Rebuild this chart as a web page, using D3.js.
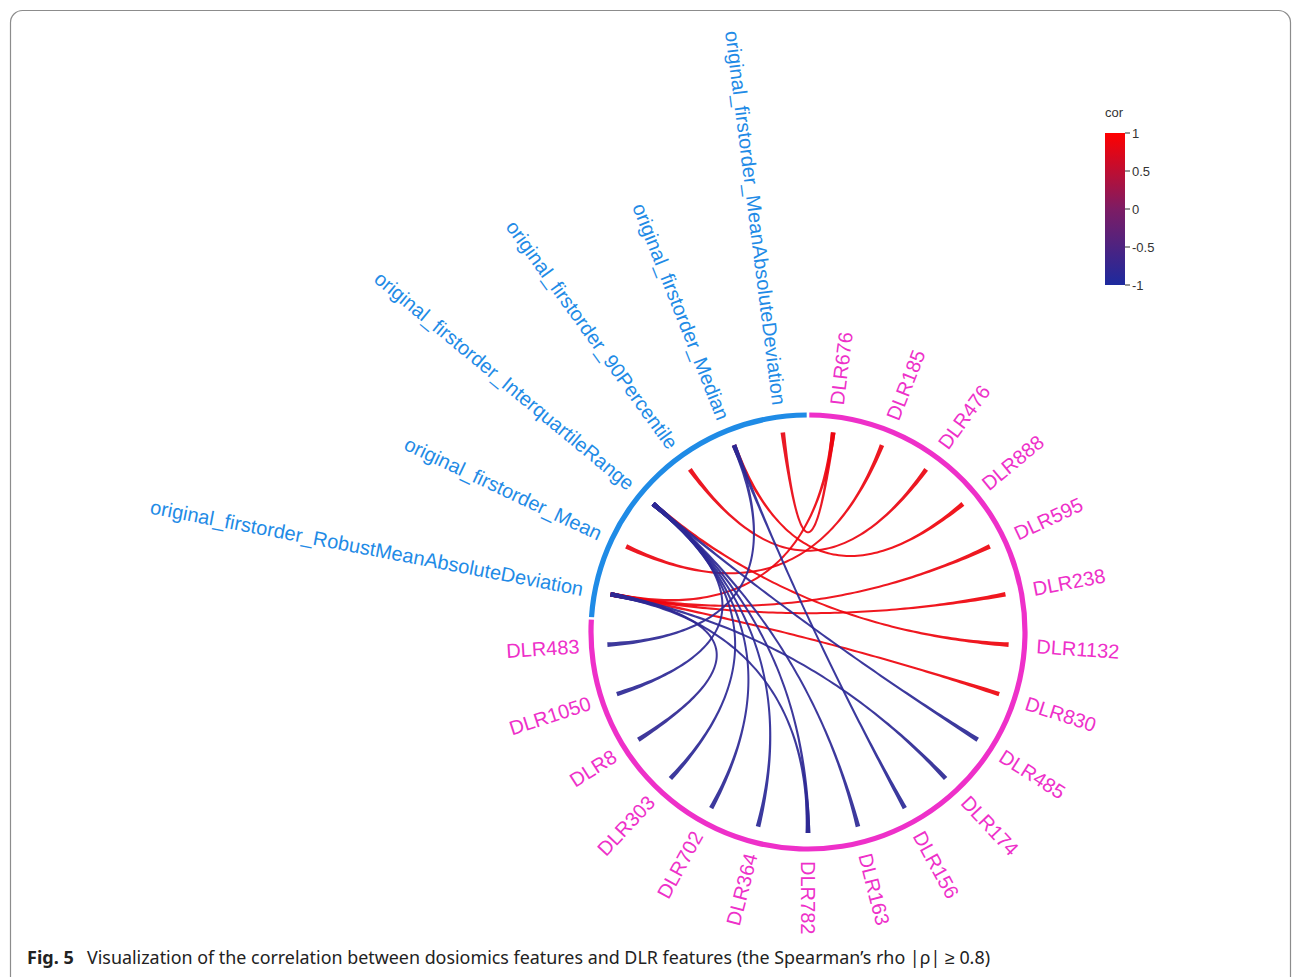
<!DOCTYPE html>
<html>
<head>
<meta charset="utf-8">
<script src="https://cdn.jsdelivr.net/npm/d3@7"></script>
<style>
  html, body { margin: 0; padding: 0; background: #fff; }
  svg { display: block; }
</style>
</head>
<body>
<svg id="chart" width="1296" height="977"></svg>
<script>
// Dosiomics features (blue group) and DLR features (pink group)
const features = [
  "original_firstorder_MeanAbsoluteDeviation",
  "original_firstorder_Median",
  "original_firstorder_90Percentile",
  "original_firstorder_InterquartileRange",
  "original_firstorder_Mean",
  "original_firstorder_RobustMeanAbsoluteDeviation"
];
const dlr = [
  "DLR676", "DLR185", "DLR476", "DLR888", "DLR595", "DLR238", "DLR1132",
  "DLR830", "DLR485", "DLR174", "DLR156", "DLR163", "DLR782", "DLR364",
  "DLR702", "DLR303", "DLR8", "DLR1050", "DLR483"
];

// Correlated pairs (|rho| >= 0.8)
const linkFeature = [
  "original_firstorder_MeanAbsoluteDeviation",
  "original_firstorder_RobustMeanAbsoluteDeviation",
  "original_firstorder_Median",
  "original_firstorder_90Percentile",
  "original_firstorder_Mean",
  "original_firstorder_InterquartileRange",
  "original_firstorder_RobustMeanAbsoluteDeviation",
  "original_firstorder_RobustMeanAbsoluteDeviation",
  "original_firstorder_RobustMeanAbsoluteDeviation",
  "original_firstorder_InterquartileRange",
  "original_firstorder_RobustMeanAbsoluteDeviation",
  "original_firstorder_Median",
  "original_firstorder_InterquartileRange",
  "original_firstorder_InterquartileRange",
  "original_firstorder_RobustMeanAbsoluteDeviation",
  "original_firstorder_InterquartileRange",
  "original_firstorder_InterquartileRange",
  "original_firstorder_InterquartileRange",
  "original_firstorder_RobustMeanAbsoluteDeviation",
  "original_firstorder_InterquartileRange",
  "original_firstorder_Median"
];
const linkDlr = [
  "DLR676", "DLR676", "DLR888", "DLR476", "DLR185", "DLR1132", "DLR595",
  "DLR238", "DLR830", "DLR485", "DLR174", "DLR156", "DLR163", "DLR782",
  "DLR782", "DLR364", "DLR702", "DLR303", "DLR8", "DLR1050", "DLR483"
];
const linkCor = [
  0.82, 0.86, 0.88, 0.84, 0.85, 0.87, 0.86,
  0.88, 0.87, -0.85, -0.83, -0.86, -0.84, -0.82,
  -0.83, -0.86, -0.84, -0.85, -0.81, -0.84, -0.83
];

// Legend ticks
const legendTicks = [1, 0.5, 0, -0.5, -1];

const svg = d3.select("#chart");
const cx = 808, cy = 632;
const rArc = 217, rEdge = 201, rLabel = 229;
const labelFont = "'Liberation Sans', Arial, Helvetica, sans-serif";

// Frame
svg.append("rect")
  .attr("x", 10.5).attr("y", 10.5)
  .attr("width", 1280).attr("height", 985)
  .attr("rx", 12).attr("ry", 12)
  .attr("fill", "none").attr("stroke", "#8c8c8c").attr("stroke-width", 1.2);

// Nodes clockwise from the top: DLR group then features in reverse
const nodes = dlr.concat(features.slice().reverse());
const angle = d3.scaleBand().domain(nodes).range([0, 2 * Math.PI]);
const mid = n => angle(n) + angle.bandwidth() / 2;

const color = d3.scaleLinear()
  .domain([-1, 0, 1])
  .range(["#1d2a9e", "#7d1c64", "#ff0000"]);

const g = svg.append("g").attr("transform", `translate(${cx},${cy})`);

// Group arcs
const blueCol = "#1f8be6", pinkCol = "#ee30c9";
const pad = 0.006;
const arc = d3.arc().innerRadius(rArc - 2.6).outerRadius(rArc + 2.6);
g.append("path")
  .attr("d", arc({ startAngle: angle(dlr[0]) + pad, endAngle: angle(dlr[dlr.length - 1]) + angle.bandwidth() - pad }))
  .attr("fill", pinkCol);
g.append("path")
  .attr("d", arc({ startAngle: angle(features[features.length - 1]) + pad, endAngle: angle(features[0]) + angle.bandwidth() - pad }))
  .attr("fill", blueCol);

// Edges: quadratic curves through the centre, tapering toward the middle
const links = linkFeature.map((f, i) => ({ f, d: linkDlr[i], cor: linkCor[i] }));
function taperedPath(p0, p2, wEnd, wMid) {
  const c = [0, 0];
  const N = 90, left = [], right = [];
  for (let k = 0; k <= N; k++) {
    const t = k / N, u = 1 - t;
    const x = u * u * p0[0] + 2 * u * t * c[0] + t * t * p2[0];
    const y = u * u * p0[1] + 2 * u * t * c[1] + t * t * p2[1];
    const dx = 2 * u * (c[0] - p0[0]) + 2 * t * (p2[0] - c[0]);
    const dy = 2 * u * (c[1] - p0[1]) + 2 * t * (p2[1] - c[1]);
    const len = Math.hypot(dx, dy) || 1;
    const nx = -dy / len, ny = dx / len;
    const w = (wMid + (wEnd - wMid) * Math.pow(Math.abs(2 * t - 1), 4)) / 2;
    left.push([x + nx * w, y + ny * w]);
    right.push([x - nx * w, y - ny * w]);
  }
  return d3.line()(left.concat(right.reverse())) + "Z";
}
g.append("g").selectAll("path")
  .data(links)
  .join("path")
  .attr("d", l => taperedPath(d3.pointRadial(mid(l.f), rEdge), d3.pointRadial(mid(l.d), rEdge), 4.6, 2.0))
  .attr("fill", l => color(l.cor))
  .attr("fill-opacity", 0.92);

// Node labels
const labelG = g.append("g")
  .attr("font-family", labelFont)
  .attr("font-size", 20);
labelG.selectAll("text")
  .data(nodes)
  .join("text")
  .attr("transform", n => {
    const a = mid(n) * 180 / Math.PI;
    const p = d3.pointRadial(mid(n), rLabel);
    const rot = a <= 180 ? a - 90 : a + 90;
    return `translate(${p[0]},${p[1]}) rotate(${rot})`;
  })
  .attr("text-anchor", n => mid(n) * 180 / Math.PI <= 180 ? "start" : "end")
  .attr("dy", "0.35em")
  .attr("fill", n => features.includes(n) ? blueCol : pinkCol)
  .text(n => n);

// Colour legend
const lg = svg.append("g").attr("transform", "translate(1105,133)");
const barH = 152, barW = 20;
const defs = svg.append("defs");
const grad = defs.append("linearGradient").attr("id", "corGrad")
  .attr("x1", 0).attr("y1", 1).attr("x2", 0).attr("y2", 0);
d3.range(0, 1.0001, 0.1).forEach(s => {
  grad.append("stop").attr("offset", s).attr("stop-color", color(-1 + 2 * s));
});
lg.append("rect").attr("width", barW).attr("height", barH).attr("fill", "url(#corGrad)");
const ly = d3.scaleLinear().domain([-1, 1]).range([barH, 0]);
lg.selectAll("line.tick")
  .data(legendTicks)
  .join("line")
  .attr("class", "tick")
  .attr("x1", barW).attr("x2", barW + 5)
  .attr("y1", d => ly(d)).attr("y2", d => ly(d))
  .attr("stroke", "#333").attr("stroke-width", 1);
lg.selectAll("text.tl")
  .data(legendTicks)
  .join("text")
  .attr("class", "tl")
  .attr("x", barW + 7)
  .attr("y", d => ly(d))
  .attr("dy", "0.35em")
  .attr("font-family", labelFont)
  .attr("font-size", 13)
  .attr("fill", "#333")
  .text(d => d);
lg.append("text")
  .attr("x", 0).attr("y", -16)
  .attr("font-family", labelFont)
  .attr("font-size", 13)
  .attr("fill", "#333")
  .text("cor");

// Caption
const cap = svg.append("text")
  .attr("x", 27).attr("y", 964)
  .attr("font-family", "'Liberation Sans Narrow', 'Noto Sans', sans-serif")
  .attr("font-size", 18)
  .attr("fill", "#222");
cap.append("tspan").attr("font-weight", "bold").text("Fig. 5");
cap.append("tspan").attr("x", 87)
  .attr("textLength", 903).attr("lengthAdjust", "spacingAndGlyphs")
  .text("Visualization of the correlation between dosiomics features and DLR features (the Spearman\u2019s rho |\u03C1| \u2265 0.8)");
</script>
</body>
</html>
